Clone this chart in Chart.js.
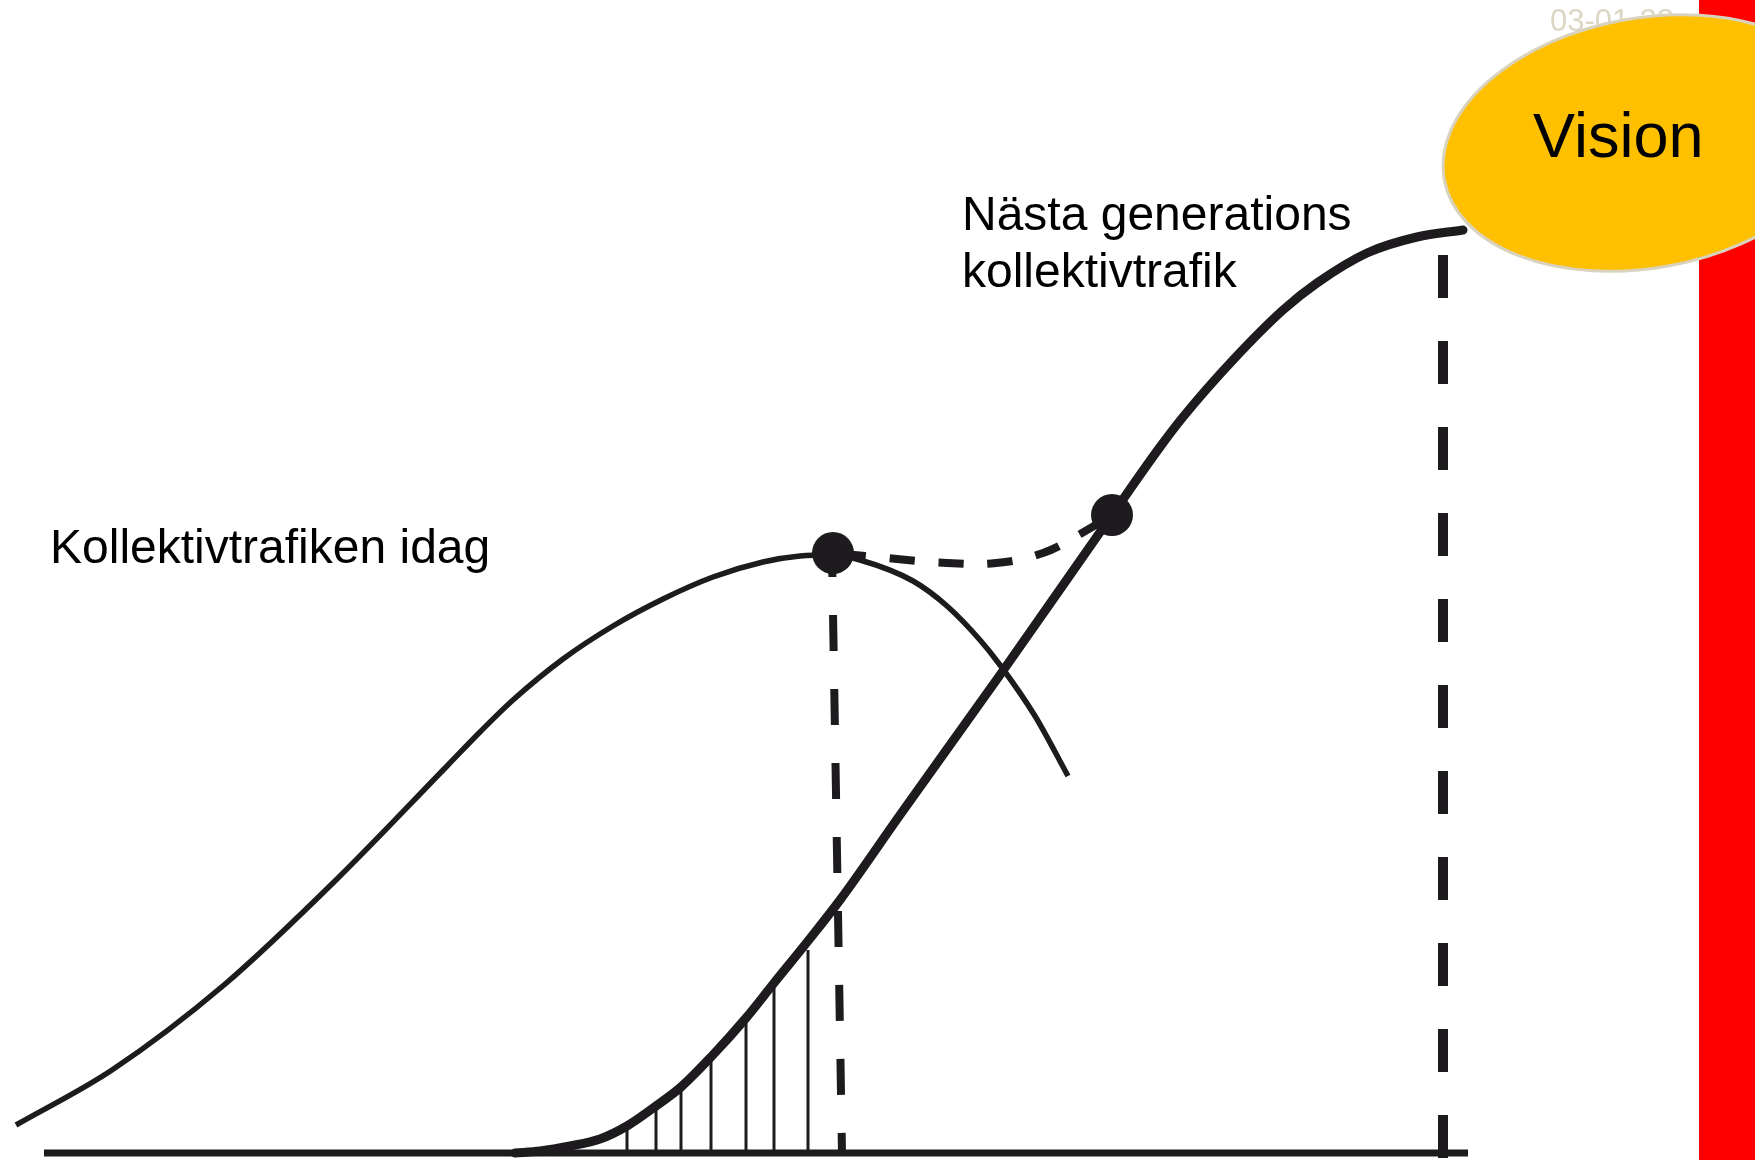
<!DOCTYPE html>
<html>
<head>
<meta charset="utf-8">
<script src="https://cdn.jsdelivr.net/npm/chart.js@4.4.1/dist/chart.umd.min.js"></script>
<style>
  html, body { margin: 0; padding: 0; background: #fff; }
  #wrap { width: 1755px; height: 1160px; position: relative; }
</style>
</head>
<body>
<div id="wrap"><canvas id="c"></canvas></div>
<script>
const INK = '#1d1b1e';
const FONT = '"Liberation Sans", Arial, sans-serif';

// x = tid (vänster -> höger), y = nivå över axeln
const todayX = [16, 112, 224, 336, 448, 480, 513, 563, 613, 663, 713, 763, 800, 833, 860, 913, 947, 980, 1000, 1035, 1068];
const todayY = [28, 83, 168, 273, 388, 421, 453, 494, 527, 554, 576, 591, 597, 598, 593, 572, 547, 513, 488, 437, 377];

const nextX = [515, 540, 570, 600, 627, 656, 681, 711, 746, 774, 808, 840, 900, 1000, 1112, 1160, 1183, 1233, 1283, 1317, 1367, 1417, 1463];
const nextY = [0, 2, 7, 14, 27, 47, 66, 96, 135, 170, 212, 253, 338, 478, 638, 706, 736, 793, 843, 870, 900, 916, 923];

// övergång mellan kurvorna
const bridgeX = [833, 897, 947, 996, 1043, 1082, 1112];
const bridgeY = [600, 594, 590, 590, 600, 620, 638];

const dotsX = [833, 1112];
const dotsY = [600, 638];

// skrafferade staplar under nya kurvan
const hatchX = [627, 656, 681, 711, 746, 774, 808];
const hatchY = [26, 48, 66, 96, 133, 166, 203];

const axisX = [44, 1468];
const nowLine = [{ x: 832, y: 600 }, { x: 842, y: 0 }];
const visionLine = [{ x: 1443, y: 898 }, { x: 1443, y: -5 }];

const pts = (xs, ys) => xs.map((x, i) => ({ x, y: ys[i] }));

const lineDs = (data, extra) => ({
  data,
  showLine: true,
  pointRadius: 0,
  borderColor: INK,
  backgroundColor: INK,
  fill: false,
  ...extra,
});

const datasets = [
  lineDs(pts(dotsX, dotsY), { showLine: false, pointRadius: 21, pointBackgroundColor: INK, pointBorderWidth: 0 }),
  lineDs(pts(todayX, todayY), { borderWidth: 5.5, cubicInterpolationMode: 'monotone' }),
  lineDs(pts(nextX, nextY), { borderWidth: 9, cubicInterpolationMode: 'monotone', borderCapStyle: 'round' }),
  lineDs(pts(bridgeX, bridgeY), { borderWidth: 8, tension: 0.4, borderDash: [25, 24], borderDashOffset: -8 }),
  lineDs(nowLine, { borderWidth: 8, borderDash: [36, 38], borderDashOffset: 12 }),
  lineDs(visionLine, { borderWidth: 10, borderDash: [43, 43] }),
  lineDs(pts(axisX, [0, 0]), { borderWidth: 7 }),
  ...hatchX.map((x, i) => lineDs([{ x, y: 0 }, { x, y: hatchY[i] }], { borderWidth: 3 })),
];

const decor = {
  id: 'decor',
  beforeDatasetsDraw(chart) {
    const ctx = chart.ctx;
    ctx.save();
    ctx.fillStyle = '#ff0000';
    ctx.fillRect(1699, 0, 56, 1160);
    ctx.fillStyle = '#dcd6c4';
    ctx.font = '31px ' + FONT;
    ctx.textBaseline = 'alphabetic';
    ctx.fillText('03-01-28', 1550, 31);

    ctx.fillStyle = '#000';
    ctx.font = '48px ' + FONT;
    ctx.fillText('Kollektivtrafiken idag', 50, 563);
    ctx.fillText('Nästa generations', 962, 230);
    ctx.fillText('kollektivtrafik', 962, 287);
    ctx.restore();
  },
  afterDatasetsDraw(chart) {
    const ctx = chart.ctx;
    ctx.save();
    ctx.beginPath();
    ctx.ellipse(1646, 143, 205, 125, -0.18, 0, Math.PI * 2);
    ctx.fillStyle = '#ffc000';
    ctx.fill();
    ctx.lineWidth = 3;
    ctx.strokeStyle = '#d9d2bd';
    ctx.stroke();
    ctx.fillStyle = '#000';
    ctx.font = '63px ' + FONT;
    ctx.fillText('Vision', 1533, 157);
    ctx.restore();
  }
};

new Chart(document.getElementById('c'), {
  type: 'scatter',
  data: { datasets },
  options: {
    responsive: true,
    maintainAspectRatio: false,
    animation: false,
    layout: { padding: 0, autoPadding: false },
    plugins: { legend: { display: false }, tooltip: { enabled: false } },
    scales: {
      x: { type: 'linear', min: 0, max: 1755, display: false },
      y: { type: 'linear', min: -7, max: 1153, display: false }
    }
  },
  plugins: [decor]
});
</script>
</body>
</html>
